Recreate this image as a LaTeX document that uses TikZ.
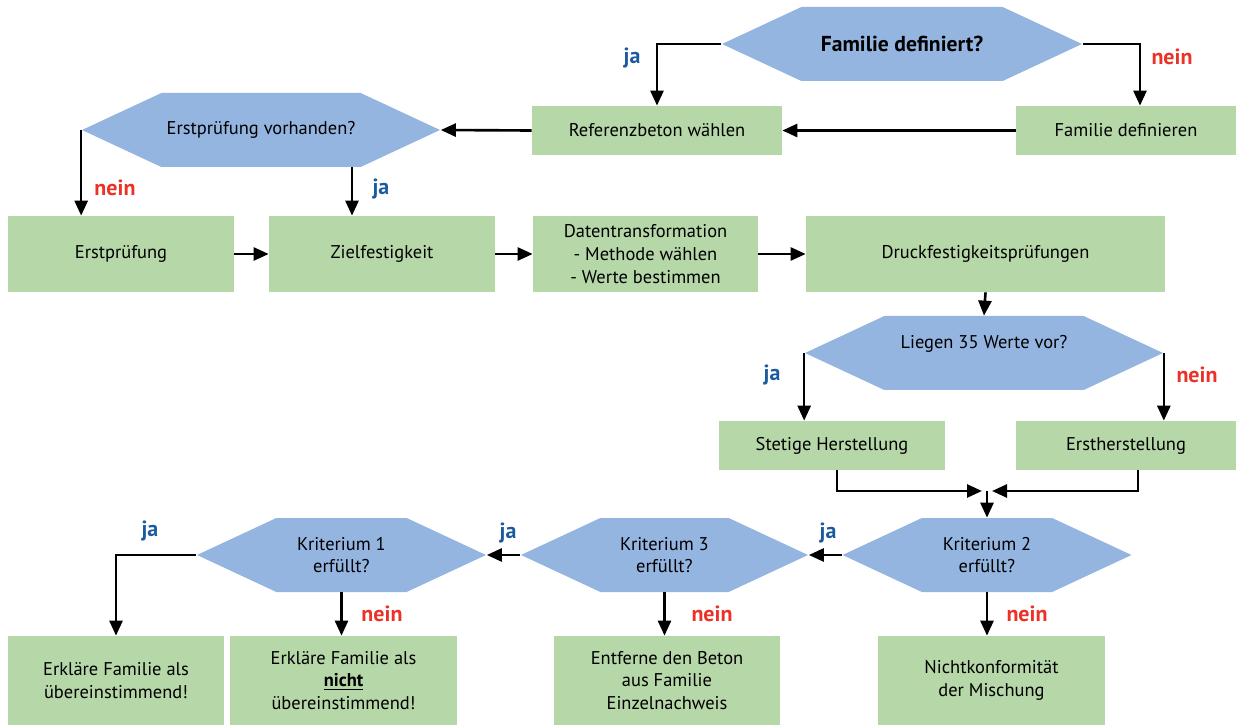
\documentclass[tikz,border=0pt]{standalone}
\usepackage{fontspec}
\setmainfont{PT Sans}
\usetikzlibrary{positioning,shapes.symbols,arrows.meta}

\definecolor{boxgreen}{HTML}{B6D7A8}
\definecolor{hexblue}{HTML}{95B5E1}
\definecolor{jablue}{HTML}{1B5AA0}
\definecolor{neinred}{HTML}{EC3227}

\begin{document}
\begin{tikzpicture}[
    font=\fontsize{10.5}{13}\selectfont,
    box/.style={rectangle, fill=boxgreen, align=center, inner sep=0pt, minimum height=0.98cm},
    hexa/.style={signal, signal to=west and east, signal pointer angle=50, fill=hexblue, align=center, inner sep=0pt, minimum height=1.48cm},
    arr/.style={-{Triangle[length=3mm,width=2.6mm]}, line width=1.5pt},
    ja/.style={text=jablue, font=\fontsize{12.5}{15}\selectfont\bfseries},
    nein/.style={text=neinred, font=\fontsize{12.5}{15}\selectfont\bfseries}
]
    \useasboundingbox (0,0) rectangle (24.76,-14.5);

    % Top decision
    \node[hexa, minimum width=7.2cm, font=\fontsize{12.3}{15}\selectfont\bfseries] (famdef) at (18.04,-0.88) {Familie definiert?};
    \node[box, minimum width=5.0cm] (refbeton) at (13.14,-2.61) {Referenzbeton w\"ahlen};
    \node[box, minimum width=4.4cm] (famdefin) at (22.52,-2.61) {Familie definieren};
    \node[hexa, minimum width=7.16cm] (erstvor) at (5.22,-2.6) {Erstpr\"ufung vorhanden?};

    % Row of tests
    \node[box, minimum width=4.52cm, minimum height=1.52cm] (erstpr) at (2.42,-5.08) {Erstpr\"ufung};
    \node[box, minimum width=4.52cm, minimum height=1.52cm] (ziel) at (7.64,-5.08) {Zielfestigkeit};
    \node[box, minimum width=4.5cm, minimum height=1.52cm] (daten) at (12.91,-5.08) {Datentransformation\\ - Methode w\"ahlen\\ - Werte bestimmen};
    \node[box, minimum width=7.18cm, minimum height=1.52cm] (druck) at (19.71,-5.08) {Druckfestigkeitspr\"ufungen};

    % 35 values
    \node[hexa, minimum width=7.16cm] (liegen) at (19.68,-7.06) {Liegen 35 Werte vor?\\ \mbox{}};
    \node[box, minimum width=4.52cm] (stetig) at (16.64,-8.91) {Stetige Herstellung};
    \node[box, minimum width=4.4cm] (ersther) at (22.52,-8.91) {Erstherstellung};
    \coordinate (mrg) at (19.74,-9.82);

    % Criteria
    \node[hexa, minimum width=5.78cm] (krit2) at (19.74,-11.1) {Kriterium 2\\ erf\"ullt?};
    \node[hexa, minimum width=5.74cm] (krit3) at (13.29,-11.1) {Kriterium 3\\ erf\"ullt?};
    \node[hexa, minimum width=5.78cm] (krit1) at (6.83,-11.1) {Kriterium 1\\ erf\"ullt?};

    % Results
    \node[box, minimum width=4.32cm, minimum height=1.78cm] (res1) at (2.32,-13.61) {Erkl\"are Familie als\\ \"ubereinstimmend!};
    \node[box, minimum width=4.54cm, minimum height=1.78cm] (res2) at (6.87,-13.61) {Erkl\"are Familie als\\ \underline{\textbf{nicht}}\\ \"ubereinstimmend!};
    \node[box, minimum width=4.52cm, minimum height=1.78cm] (res3) at (13.34,-13.61) {Entferne den Beton\\ aus Familie\\ Einzelnachweis};
    \node[box, minimum width=4.54cm, minimum height=1.78cm] (res4) at (19.83,-13.61) {Nichtkonformit\"at\\ der Mischung};

    % Connectors
    \draw[arr] (famdef.west) -| (refbeton.north);
    \draw[arr] (famdef.east) -| ([xshift=2.8mm]famdefin.north);
    \draw[arr] (famdefin.west) -- (refbeton.east);
    \draw[arr] (refbeton.west) -- (erstvor.east);
    \draw[arr] (erstvor.west) -- (erstvor.west |- erstpr.north);
    \draw[arr] ([xshift=1.82cm]erstvor.south) -- ([xshift=1.82cm]erstvor.south |- ziel.north);
    \draw[arr] (erstpr.east) -- (ziel.west);
    \draw[arr] (ziel.east) -- (daten.west);
    \draw[arr] (daten.east) -- (druck.west);
    \draw[arr] (druck.south) -- (liegen.north);
    \draw[arr] (liegen.west) -- (liegen.west |- stetig.north);
    \draw[arr] (liegen.east) -- (liegen.east |- ersther.north);
    \draw[arr] ([xshift=1mm]stetig.south) |- ([xshift=-1mm]mrg);
    \draw[arr] ([xshift=2.4mm]ersther.south) |- ([xshift=1mm]mrg);
    \draw[arr] (mrg) -- (krit2.north);
    \draw[arr] (krit2.west) -- (krit3.east);
    \draw[arr] (krit3.west) -- (krit1.east);
    \draw[arr] (krit1.west) -| (res1.north);
    \draw[arr] (krit1.south) -- (krit1.south |- res2.north);
    \draw[arr] (krit3.south) -- (krit3.south |- res3.north);
    \draw[arr] (krit2.south) -- (krit2.south |- res4.north);

    % Answers
    \node[ja] (ja1) at (12.64,-1.16) {ja};
    \node[nein] (nein1) at (23.44,-1.14) {nein};
    \node[nein] (nein2) at (2.3,-3.76) {nein};
    \node[ja] (ja2) at (7.62,-3.78) {ja};
    \node[ja] (ja3) at (15.44,-7.5) {ja};
    \node[nein] (nein3) at (23.94,-7.5) {nein};
    \node[ja] (ja4) at (16.56,-10.66) {ja};
    \node[ja] (ja5) at (10.16,-10.66) {ja};
    \node[ja] (ja6) at (3.0,-10.62) {ja};
    \node[nein] (nein4) at (20.54,-12.28) {nein};
    \node[nein] (nein5) at (14.24,-12.28) {nein};
    \node[nein] (nein6) at (7.64,-12.28) {nein};
\end{tikzpicture}
\end{document}
